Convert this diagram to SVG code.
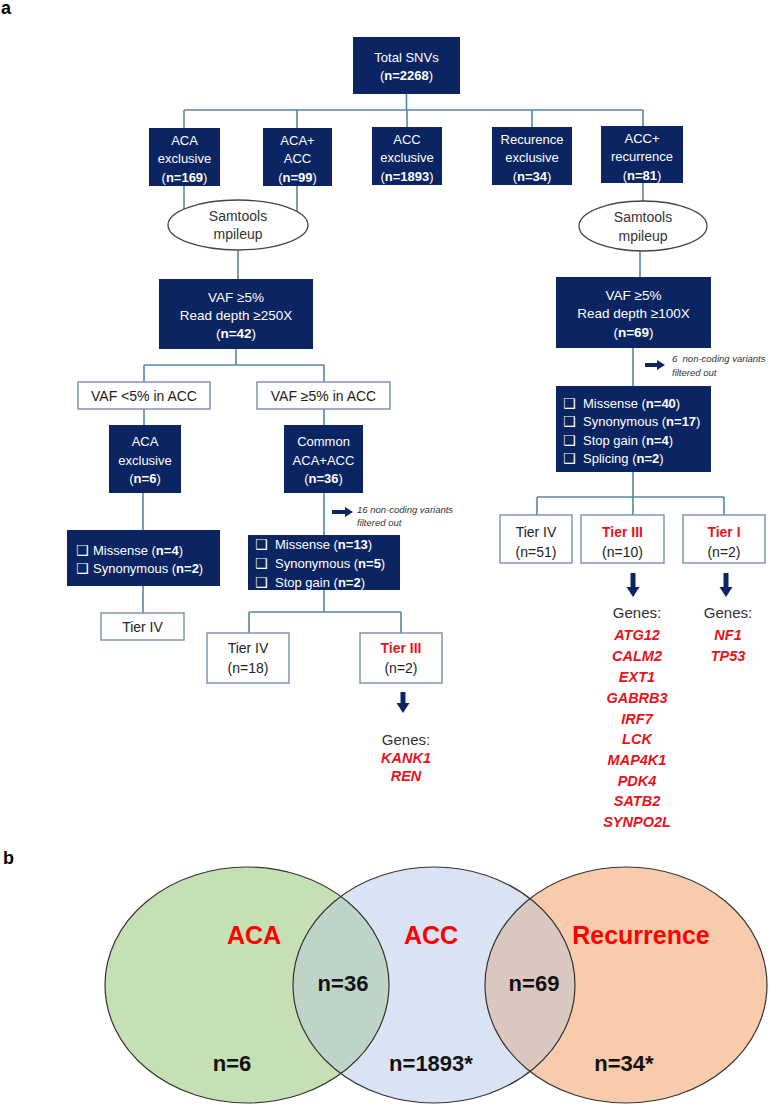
<svg xmlns="http://www.w3.org/2000/svg" width="775" height="1105" viewBox="0 0 775 1105">
<style>
text{font-family:"Liberation Sans",Arial,sans-serif}
.dk{fill:#0b2462}
.wb{fill:#fff;stroke:#7f95b4;stroke-width:1.5}
.wt{fill:#fff;font-size:13px;text-anchor:middle}
.wt14{fill:#fff;font-size:13.5px;text-anchor:middle}
.lt{fill:#fff;font-size:13px}
.bt{fill:#222;font-size:14px;text-anchor:middle}
.red{fill:#e8141c;font-weight:bold}
.b{font-weight:bold}
.cb{font-family:"DejaVu Sans",sans-serif;font-size:14px;fill:#fff}
.gene{fill:#e8141c;font-weight:bold;font-style:italic;font-size:14.5px;text-anchor:middle}
.gh{fill:#333;font-size:15px;text-anchor:middle}
.note{fill:#333;font-style:italic;font-size:9.5px}
.ell{fill:#fff;stroke:#444;stroke-width:1.3}
.et{fill:#333;font-size:14px;text-anchor:middle}
.con{fill:none;stroke:#5587a8;stroke-width:1.6}
.arr{fill:#0b2462}
.lab{font-weight:bold;font-size:18px;fill:#000}
.vl{font-weight:bold;font-size:25px;fill:#ff0000;text-anchor:middle}
.vn{font-weight:bold;font-size:22px;fill:#111;text-anchor:middle}
.vo{fill:none;stroke:#333;stroke-width:1.2}
</style>
<defs>
<clipPath id="cpG"><ellipse cx="247" cy="985" rx="142" ry="118"/></clipPath>
<clipPath id="cpO"><ellipse cx="626" cy="985" rx="141" ry="118"/></clipPath>
</defs>

<text class="lab" x="1" y="14">a</text>
<text class="lab" x="3" y="864">b</text>

<g id="connectors">
<path class="con" d="M406.5 94V110M184 110H643M184 110V128M297 110V128M407 110V128M532 110V128M643 110V126"/>
<path class="con" d="M184 186V209M297 186V211.5M238 251V279"/>
<path class="con" d="M236 349V365M144 365H324M144 365V382M324 365V382M144 409V425M324 409V425"/>
<path class="con" d="M143 493V530M324 493V535M143 586V613"/>
<path class="con" d="M324 590V612M249 612H401M249 612V633M401 612V633"/>
<path class="con" d="M643 183V201M640 251V277M633 348V386M633 472V497M537 497H724M537 497V515M633 497V515M724 497V515"/>
</g>

<g id="total"><rect class="dk" x="353" y="37" width="107" height="57"/>
<text class="wt" x="406.5" y="62">Total SNVs</text>
<text class="wt" x="406.5" y="80">(<tspan class="b">n=2268</tspan>)</text></g>

<g id="aca-excl"><rect class="dk" x="149" y="128" width="71" height="58"/>
<text class="wt" x="184.5" y="145">ACA</text><text class="wt" x="184.5" y="163">exclusive</text>
<text class="wt" x="184.5" y="182">(<tspan class="b">n=169</tspan>)</text></g>

<g id="aca-acc"><rect class="dk" x="263" y="128" width="69" height="58"/>
<text class="wt" x="297.5" y="145">ACA+</text><text class="wt" x="297.5" y="163">ACC</text>
<text class="wt" x="297.5" y="182">(<tspan class="b">n=99</tspan>)</text></g>

<g id="acc-excl"><rect class="dk" x="372" y="127" width="70" height="58"/>
<text class="wt" x="407" y="144">ACC</text><text class="wt" x="407" y="162">exclusive</text>
<text class="wt" x="407" y="181">(<tspan class="b">n=1893</tspan>)</text></g>

<g id="rec-excl"><rect class="dk" x="492" y="127" width="80" height="58"/>
<text class="wt" x="532" y="144">Recurence</text><text class="wt" x="532" y="162">exclusive</text>
<text class="wt" x="532" y="181">(<tspan class="b">n=34</tspan>)</text></g>

<g id="acc-rec"><rect class="dk" x="601" y="126" width="82" height="57"/>
<text class="wt" x="642" y="143">ACC+</text><text class="wt" x="642" y="161">recurrence</text>
<text class="wt" x="642" y="180">(<tspan class="b">n=81</tspan>)</text></g>

<g id="samtools-left"><ellipse class="ell" cx="238" cy="225" rx="70" ry="25"/>
<text class="et" x="238" y="221">Samtools</text><text class="et" x="238" y="239">mpileup</text></g>

<g id="samtools-right"><ellipse class="ell" cx="643" cy="226" rx="64" ry="25"/>
<text class="et" x="643" y="222">Samtools</text><text class="et" x="643" y="241">mpileup</text></g>

<g id="vaf-left"><rect class="dk" x="159" y="279" width="154" height="70"/>
<text class="wt14" x="236" y="302">VAF ≥5%</text><text class="wt14" x="236" y="320">Read depth ≥250X</text>
<text class="wt14" x="236" y="338">(<tspan class="b">n=42</tspan>)</text></g>

<g id="vaf-right"><rect class="dk" x="556" y="277" width="155" height="71"/>
<text class="wt14" x="633.5" y="300">VAF ≥5%</text><text class="wt14" x="633.5" y="318">Read depth ≥100X</text>
<text class="wt14" x="633.5" y="337">(<tspan class="b">n=69</tspan>)</text></g>

<g id="vaf-lt5"><rect class="wb" x="78" y="382" width="132" height="27"/>
<text class="bt" x="144" y="401">VAF &lt;5% in ACC</text></g>

<g id="vaf-ge5"><rect class="wb" x="257" y="382" width="133" height="27"/>
<text class="bt" x="323.5" y="401">VAF ≥5% in ACC</text></g>

<g id="aca-excl-6"><rect class="dk" x="109" y="425" width="72" height="68"/>
<text class="wt" x="145" y="446">ACA</text><text class="wt" x="145" y="465">exclusive</text>
<text class="wt" x="145" y="483">(<tspan class="b">n=6</tspan>)</text></g>

<g id="common"><rect class="dk" x="284" y="425" width="79" height="68"/>
<text class="wt" x="323.5" y="446">Common</text><text class="wt" x="323.5" y="465">ACA+ACC</text>
<text class="wt" x="323.5" y="483">(<tspan class="b">n=36</tspan>)</text></g>

<g id="note-left">
<path class="arr" d="M332 510H345V507L353 512L345 517V514H332Z"/>
<text class="note" x="357" y="513">16 non-coding variants</text>
<text class="note" x="357" y="526">filtered out</text></g>

<g id="note-right">
<path class="arr" d="M645 363H657V360L665 365L657 370V367H645Z"/>
<text class="note" x="672" y="362" xml:space="preserve">6  non-coding variants</text>
<text class="note" x="672" y="376">filtered out</text></g>

<g id="list-left"><rect class="dk" x="67" y="530" width="153" height="56"/>
<text class="cb" x="76" y="555">❑</text><text class="lt" x="93" y="555">Missense (<tspan class="b">n=4</tspan>)</text>
<text class="cb" x="76" y="573">❑</text><text class="lt" x="93" y="573">Synonymous (<tspan class="b">n=2</tspan>)</text></g>

<g id="list-mid"><rect class="dk" x="248" y="535" width="152" height="55"/>
<text class="cb" x="255" y="549">❑</text><text class="lt" x="275" y="549">Missense (<tspan class="b">n=13</tspan>)</text>
<text class="cb" x="255" y="568">❑</text><text class="lt" x="275" y="568">Synonymous (<tspan class="b">n=5</tspan>)</text>
<text class="cb" x="255" y="587">❑</text><text class="lt" x="275" y="587">Stop gain (<tspan class="b">n=2</tspan>)</text></g>

<g id="list-right"><rect class="dk" x="556" y="386" width="155" height="86"/>
<text class="cb" x="563" y="408">❑</text><text class="lt" x="583" y="408">Missense (<tspan class="b">n=40</tspan>)</text>
<text class="cb" x="563" y="426">❑</text><text class="lt" x="583" y="426">Synonymous (<tspan class="b">n=17</tspan>)</text>
<text class="cb" x="563" y="445">❑</text><text class="lt" x="583" y="445">Stop gain (<tspan class="b">n=4</tspan>)</text>
<text class="cb" x="563" y="463">❑</text><text class="lt" x="583" y="463">Splicing (<tspan class="b">n=2</tspan>)</text></g>

<g id="tier4-a"><rect class="wb" x="101" y="613" width="83" height="27"/>
<text class="bt" x="142.5" y="632">Tier IV</text></g>

<g id="tier4-b"><rect class="wb" x="207" y="633" width="82" height="50"/>
<text class="bt" x="248" y="653">Tier IV</text><text class="bt" x="248" y="673">(n=18)</text></g>

<g id="tier3-b"><rect class="wb" x="360" y="633" width="82" height="50"/>
<text class="bt red" x="401" y="653">Tier III</text><text class="bt" x="401" y="673">(n=2)</text></g>

<g id="tier4-c"><rect class="wb" x="500" y="515" width="72" height="48"/>
<text class="bt" x="536" y="537">Tier IV</text><text class="bt" x="536" y="557">(n=51)</text></g>

<g id="tier3-c"><rect class="wb" x="581" y="515" width="83" height="48"/>
<text class="bt red" x="622.5" y="537">Tier III</text><text class="bt" x="622.5" y="557">(n=10)</text></g>

<g id="tier1-c"><rect class="wb" x="683" y="515" width="82" height="48"/>
<text class="bt red" x="724" y="537">Tier I</text><text class="bt" x="724" y="557">(n=2)</text></g>

<g id="genes-b">
<path class="arr" d="M400.5 692H405.5V703H409.5L403 713L396.5 703H400.5Z"/>
<text class="gh" x="406" y="745">Genes:</text>
<text class="gene" x="406" y="763">KANK1</text>
<text class="gene" x="406" y="781">REN</text></g>

<g id="genes-c3">
<path class="arr" d="M630.5 573H635.5V587H639.5L633 597L626.5 587H630.5Z"/>
<text class="gh" x="637" y="618">Genes:</text>
<text class="gene" x="637" y="640">ATG12</text>
<text class="gene" x="637" y="661">CALM2</text>
<text class="gene" x="637" y="682">EXT1</text>
<text class="gene" x="637" y="703">GABRB3</text>
<text class="gene" x="637" y="724">IRF7</text>
<text class="gene" x="637" y="744">LCK</text>
<text class="gene" x="637" y="765">MAP4K1</text>
<text class="gene" x="637" y="786">PDK4</text>
<text class="gene" x="637" y="806">SATB2</text>
<text class="gene" x="637" y="827">SYNPO2L</text></g>

<g id="genes-c1">
<path class="arr" d="M723.5 573H728.5V587H732.5L726 597L719.5 587H723.5Z"/>
<text class="gh" x="728" y="618">Genes:</text>
<text class="gene" x="728" y="640">NF1</text>
<text class="gene" x="728" y="661">TP53</text></g>

<g id="venn">
<ellipse cx="247" cy="985" rx="142" ry="118" fill="#c5e0b4"/>
<ellipse cx="626" cy="985" rx="141" ry="118" fill="#f8cbad"/>
<ellipse cx="434" cy="985" rx="141" ry="118" fill="#dae3f3"/>
<ellipse cx="434" cy="985" rx="141" ry="118" fill="#bed4c6" clip-path="url(#cpG)"/>
<ellipse cx="434" cy="985" rx="141" ry="118" fill="#dac7c0" clip-path="url(#cpO)"/>
<ellipse class="vo" cx="247" cy="985" rx="142" ry="118"/>
<ellipse class="vo" cx="434" cy="985" rx="141" ry="118"/>
<ellipse class="vo" cx="626" cy="985" rx="141" ry="118"/>
<text class="vl" x="254" y="944">ACA</text>
<text class="vl" x="431" y="944">ACC</text>
<text class="vl" x="641" y="944">Recurrence</text>
<text class="vn" x="343" y="991">n=36</text>
<text class="vn" x="534" y="991">n=69</text>
<text class="vn" x="232" y="1071">n=6</text>
<text class="vn" x="431" y="1071">n=1893*</text>
<text class="vn" x="624" y="1071">n=34*</text>
</g>
</svg>
